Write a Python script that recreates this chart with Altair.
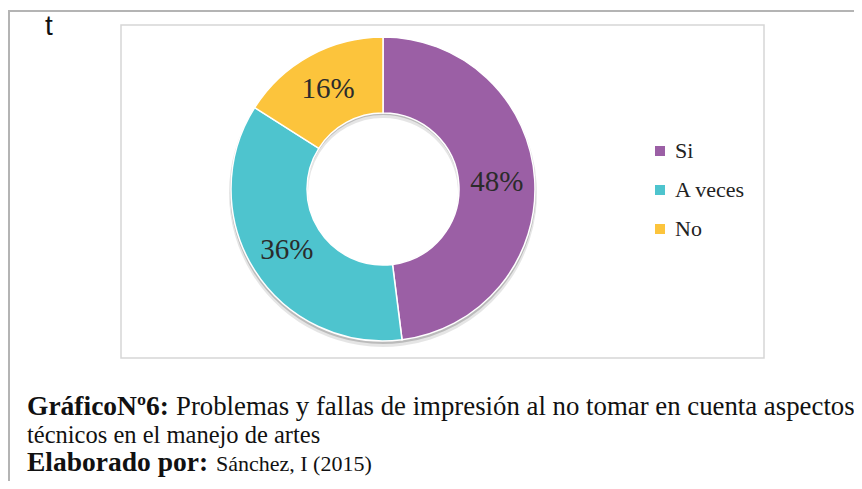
import altair as alt
import pandas as pd

# ---- data ----
categories = ["Si", "A veces", "No"]
values = [48, 36, 16]
labels = ["48%", "36%", "16%"]
colors = ["#9B5FA5", "#4EC4CE", "#FCC43C"]

corner_text = ["t"]
caption1_bold = ["GráficoNº6:"]
caption1_reg = ["Problemas y fallas de impresión al no tomar en cuenta aspectos"]
caption2_reg = ["técnicos en el manejo de artes"]
caption3_bold = ["Elaborado por:"]
caption3_reg = ["Sánchez, I (2015)"]

df = pd.DataFrame({"cat": categories, "value": values, "label": labels,
                   "idx": list(range(len(categories)))})

W, H = 846, 473
CX, CY = 375, 181
R_OUT, R_IN = 152, 76
SERIF = "Liberation Serif"

one = pd.DataFrame({"a": [0]})

frame_top = alt.Chart(one).mark_rule(color="#b4b4b4", strokeWidth=2).encode(
    x=alt.value(0), x2=alt.value(W), y=alt.value(3))
frame_left = alt.Chart(one).mark_rule(color="#b4b4b4", strokeWidth=2).encode(
    x=alt.value(1), y=alt.value(3), y2=alt.value(H))
box = alt.Chart(one).mark_rect(fill="white", stroke="#d6d6d6", strokeWidth=1.5).encode(
    x=alt.value(113), x2=alt.value(756), y=alt.value(17), y2=alt.value(350))

theta = alt.Theta("value:Q", stack=True)
order = alt.Order("idx:Q")
base = alt.Chart(df)

shadow1 = base.mark_arc(innerRadius=R_IN - 1, outerRadius=R_OUT + 2, color="#000", opacity=0.10).encode(
    theta=theta, order=order, x=alt.value(CX), y=alt.value(CY + 4))
shadow2 = base.mark_arc(innerRadius=R_IN, outerRadius=R_OUT + 1, color="#000", opacity=0.18).encode(
    theta=theta, order=order, x=alt.value(CX), y=alt.value(CY + 2))

donut = base.mark_arc(innerRadius=R_IN, outerRadius=R_OUT, stroke="white", strokeWidth=1.5).encode(
    theta=theta,
    order=order,
    color=alt.Color("cat:N", sort=categories,
                    scale=alt.Scale(domain=categories, range=colors),
                    legend=alt.Legend(title=None, orient="none", legendX=641, legendY=132,
                                      symbolType="square", symbolSize=100, symbolStrokeWidth=0,
                                      labelFont=SERIF, labelFontSize=22, labelColor="#222",
                                      rowPadding=17, labelOffset=4, padding=0)),
    x=alt.value(CX), y=alt.value(CY))

pct = base.mark_text(radius=114, font=SERIF, fontSize=29, color="#2b2b2b").encode(
    theta=theta, order=order, text="label:N", x=alt.value(CX), y=alt.value(CY))


def txt(lines, x, y, size, weight="normal", font=SERIF, color="#111"):
    return alt.Chart(pd.DataFrame({"t": lines})).mark_text(
        align="left", baseline="alphabetic", font=font, fontSize=size,
        fontWeight=weight, color=color).encode(
        x=alt.value(x), y=alt.value(y), text="t:N")


t_corner = txt(corner_text, 37, 27, 28, font="Liberation Sans")
c1b = txt(caption1_bold, 19, 407, 27.5, weight="bold")
c1r = txt(caption1_reg, 168, 407, 26.8)
c2r = txt(caption2_reg, 19, 435, 24.5)
c3b = txt(caption3_bold, 19, 463, 27.5, weight="bold")
c3r = txt(caption3_reg, 208, 463, 22)

chart = alt.layer(
    frame_top, frame_left, box, shadow1, shadow2, donut, pct,
    t_corner, c1b, c1r, c2r, c3b, c3r
).properties(
    width=W, height=H, padding=0,
    autosize=alt.AutoSizeParams(type="none")
).configure_view(strokeWidth=0)

chart.save("out.html", embed_options={"renderer": "svg", "actions": False})
